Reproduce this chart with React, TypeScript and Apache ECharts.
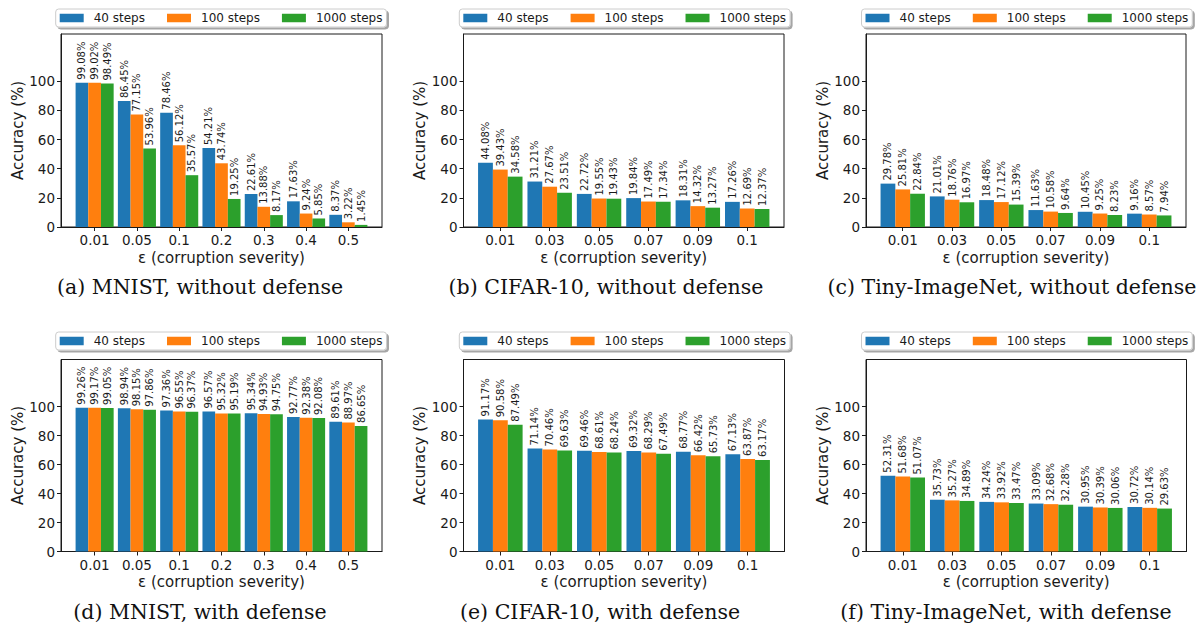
import React, { useEffect, useRef } from 'react';
import * as echarts from 'echarts';

const STEP_NAMES = ['40 steps', '100 steps', '1000 steps'];
const COLORS = ['#1f77b4', '#ff7f0e', '#2ca02c'];

const catsMnist = ['0.01', '0.05', '0.1', '0.2', '0.3', '0.4', '0.5'];
const catsOther = ['0.01', '0.03', '0.05', '0.07', '0.09', '0.1'];
const yTicks = [0, 20, 40, 60, 80, 100];

const mnistNoDef40 = [99.08, 86.45, 78.46, 54.21, 22.61, 17.63, 8.37];
const mnistNoDef100 = [99.02, 77.15, 56.12, 43.74, 13.88, 9.24, 3.22];
const mnistNoDef1000 = [98.49, 53.96, 35.57, 19.25, 8.17, 5.85, 1.45];

const cifarNoDef40 = [44.08, 31.21, 22.72, 19.84, 18.31, 17.26];
const cifarNoDef100 = [39.43, 27.67, 19.55, 17.49, 14.32, 12.69];
const cifarNoDef1000 = [34.58, 23.51, 19.43, 17.34, 13.27, 12.37];

const tinyNoDef40 = [29.78, 21.01, 18.48, 11.63, 10.45, 9.16];
const tinyNoDef100 = [25.81, 18.76, 17.12, 10.58, 9.25, 8.57];
const tinyNoDef1000 = [22.84, 16.97, 15.39, 9.64, 8.23, 7.94];

const mnistDef40 = [99.26, 98.94, 97.36, 96.57, 95.34, 92.77, 89.61];
const mnistDef100 = [99.17, 98.15, 96.55, 95.32, 94.93, 92.38, 88.97];
const mnistDef1000 = [99.05, 97.86, 96.37, 95.19, 94.75, 92.08, 86.65];

const cifarDef40 = [91.17, 71.14, 69.46, 69.32, 68.77, 67.13];
const cifarDef100 = [90.58, 70.46, 68.61, 68.29, 66.42, 63.87];
const cifarDef1000 = [87.49, 69.63, 68.24, 67.49, 65.73, 63.17];

const tinyDef40 = [52.31, 35.73, 34.24, 33.09, 30.95, 30.72];
const tinyDef100 = [51.68, 35.27, 33.92, 32.68, 30.39, 30.14];
const tinyDef1000 = [51.07, 34.89, 33.47, 32.28, 30.06, 29.63];

const captions = [
  '(a) MNIST, without defense',
  '(b) CIFAR-10, without defense',
  '(c) Tiny-ImageNet, without defense',
  '(d) MNIST, with defense',
  '(e) CIFAR-10, with defense',
  '(f) Tiny-ImageNet, with defense',
];

const panels = [
  { cats: catsMnist, vals: [mnistNoDef40, mnistNoDef100, mnistNoDef1000], box: [61, 34, 321, 193], legendLeft: 55.7, legendTop: 9, capX: 200, capY: 287 },
  { cats: catsOther, vals: [cifarNoDef40, cifarNoDef100, cifarNoDef1000], box: [463.5, 34, 320.5, 193], legendLeft: 459.3, legendTop: 9, capX: 606, capY: 287 },
  { cats: catsOther, vals: [tinyNoDef40, tinyNoDef100, tinyNoDef1000], box: [866, 34, 320, 193], legendLeft: 861.5, legendTop: 9, capX: 1012, capY: 287 },
  { cats: catsMnist, vals: [mnistDef40, mnistDef100, mnistDef1000], box: [61, 359.5, 321, 192], legendLeft: 55.7, legendTop: 332, capX: 200, capY: 612 },
  { cats: catsOther, vals: [cifarDef40, cifarDef100, cifarDef1000], box: [463.5, 359.5, 321, 192], legendLeft: 459.3, legendTop: 332, capX: 600, capY: 612 },
  { cats: catsOther, vals: [tinyDef40, tinyDef100, tinyDef1000], box: [866, 359.5, 320.5, 192], legendLeft: 861.5, legendTop: 332, capX: 1006, capY: 612 },
];

const TEXT = '#1a1a1a';
const FONT = 'DejaVu Sans';

function buildOption() {
  const grid: any[] = [];
  const xAxis: any[] = [];
  const yAxis: any[] = [];
  const series: any[] = [];
  const legend: any[] = [];
  const graphic: any[] = [];

  panels.forEach((p, i) => {
    const n = p.cats.length;
    const span = n - 1 + 0.9;
    const xMin = -0.45 - 0.05 * span;
    const xMax = n - 1 + 0.45 + 0.05 * span;
    const pxPerUnit = p.box[2] / (xMax - xMin);
    const bw = 0.3 * pxPerUnit;
    const idx = p.cats.map((_, k) => k);

    grid.push({
      left: p.box[0], top: p.box[1], width: p.box[2], height: p.box[3],
      show: true, borderColor: TEXT, borderWidth: 1, backgroundColor: 'transparent',
      outerBoundsMode: 'none', containLabel: false,
    });
    xAxis.push({
      type: 'value', gridIndex: i, min: xMin, max: xMax,
      splitLine: { show: false },
      axisLine: { show: true, onZero: false, lineStyle: { color: TEXT, width: 1 } },
      axisTick: { show: true, length: 4, customValues: idx, lineStyle: { color: TEXT } },
      axisLabel: {
        customValues: idx, formatter: (v: number) => p.cats[Math.round(v)],
        fontSize: 13.5, color: TEXT, margin: 6, fontFamily: FONT,
      },
      name: 'ε (corruption severity)', nameLocation: 'middle', nameGap: 23,
      nameTextStyle: { fontSize: 15, color: TEXT, fontFamily: FONT },
    });
    yAxis.push({
      type: 'value', gridIndex: i, min: 0, max: 132.5,
      splitLine: { show: false },
      axisLine: { show: true, onZero: false, lineStyle: { color: TEXT, width: 1 } },
      axisTick: { show: true, length: 4, customValues: yTicks, lineStyle: { color: TEXT } },
      axisLabel: { customValues: yTicks, fontSize: 13.5, color: TEXT, margin: 6, fontFamily: FONT },
      name: 'Accuracy (%)', nameLocation: 'middle', nameGap: 35, nameRotate: 90,
      nameTextStyle: { fontSize: 15, color: TEXT, fontFamily: FONT },
    });
    p.vals.forEach((vals, s) => {
      series.push({
        type: 'bar', name: STEP_NAMES[s], xAxisIndex: i, yAxisIndex: i,
        data: vals.map((v, k) => [k, v]),
        barWidth: bw, barGap: '0%',
        itemStyle: { color: COLORS[s] },
        label: {
          show: true, position: 'top', rotate: 90, align: 'left', verticalAlign: 'middle',
          distance: 3, fontSize: 10, color: TEXT, fontFamily: FONT,
          formatter: (prm: any) => prm.value[1].toFixed(2) + '%',
        },
      });
    });
    legend.push({
      left: p.legendLeft, top: p.legendTop, orient: 'horizontal',
      data: STEP_NAMES, icon: 'rect', itemWidth: 24, itemHeight: 8.5, itemGap: 22,
      padding: [3, 4, 3, 4], backgroundColor: '#fff', borderColor: '#cccccc', borderWidth: 1,
      borderRadius: 3, shadowColor: 'rgba(0,0,0,0.35)', shadowOffsetX: 2, shadowOffsetY: 2, shadowBlur: 1,
      selectedMode: false,
      textStyle: { fontSize: 12, color: TEXT, fontFamily: FONT, padding: [0, 0, 0, 5] },
    });
    graphic.push({
      type: 'text', x: p.capX, y: p.capY,
      style: { text: captions[i], fontSize: 20.5, fontFamily: 'DejaVu Serif', fill: '#111', align: 'center', verticalAlign: 'middle' },
    });
  });

  return { animation: false, backgroundColor: '#fff', grid, xAxis, yAxis, series, legend, graphic };
}

export default function App() {
  const ref = useRef<HTMLDivElement>(null);
  useEffect(() => {
    if (!ref.current) return;
    const chart = echarts.init(ref.current, null, { renderer: 'svg' });
    chart.setOption(buildOption() as any);
    return () => chart.dispose();
  }, []);
  return <div ref={ref} style={{ position: 'fixed', left: 0, top: 0, width: 1196, height: 628 }} />;
}
